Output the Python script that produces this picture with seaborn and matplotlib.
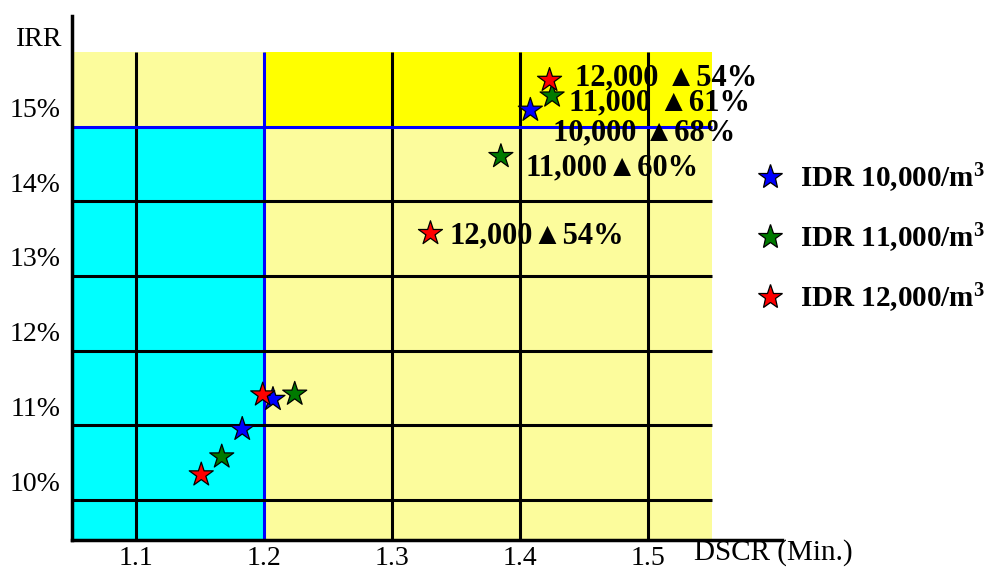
import matplotlib
matplotlib.use("Agg")
import matplotlib.pyplot as plt
import matplotlib.transforms as mtransforms
from matplotlib.patches import Rectangle
import seaborn as sns
import pandas as pd

# ---- data ----
price_labels = ["IDR 10,000/m$^3$", "IDR 11,000/m$^3$", "IDR 12,000/m$^3$"]
dscr_10k = [1.207, 1.183, 1.408]
irr_10k = [11.35, 10.95, 15.22]
dscr_11k = [1.224, 1.167, 1.385, 1.425]
irr_11k = [11.42, 10.58, 14.60, 15.41]
dscr_12k = [1.199, 1.151, 1.330, 1.423]
irr_12k = [11.41, 10.34, 13.57, 15.62]

annot_texts = ["12,000 ▲54%", "11,000 ▲61%", "10,000 ▲68%", "11,000▲60%", "12,000▲54%"]
annot_x = [1.443, 1.438, 1.426, 1.404, 1.345]
annot_y = [15.65, 15.32, 14.92, 14.45, 13.53]

x_ticks = [1.1, 1.2, 1.3, 1.4, 1.5]
x_tick_labels = ["1.1", "1.2", "1.3", "1.4", "1.5"]
y_ticks = [10, 11, 12, 13, 14, 15]
y_tick_labels = ["10%", "11%", "12%", "13%", "14%", "15%"]

dscr_min_req = 1.2
irr_target = 15
region_x = (1.05, 1.55)
region_y_top = 16

colors = ["#0000FF", "#007A00", "#FF0000"]

df = pd.DataFrame({
    "DSCR": dscr_10k + dscr_11k + dscr_12k,
    "IRR": irr_10k + irr_11k + irr_12k,
    "Price": [price_labels[0]] * len(dscr_10k) + [price_labels[1]] * len(dscr_11k)
             + [price_labels[2]] * len(dscr_12k),
})

sns.set_style("white")
plt.rcParams["font.family"] = ["Liberation Serif", "DejaVu Serif"]
plt.rcParams["text.color"] = "black"
plt.rcParams["axes.labelcolor"] = "black"
plt.rcParams["xtick.color"] = "black"
plt.rcParams["ytick.color"] = "black"
plt.rcParams["mathtext.fontset"] = "custom"
plt.rcParams["mathtext.rm"] = "Liberation Serif:bold"
plt.rcParams["mathtext.it"] = "Liberation Serif:bold"
plt.rcParams["mathtext.bf"] = "Liberation Serif:bold"

fig = plt.figure(figsize=(9.99, 5.69), dpi=100)
ax = fig.add_axes([0.072, 0.051, 0.711, 0.921])

xlim = (1.05, 1.6047)
ylim = (9.467, 16.48)
ax.set_xlim(*xlim)
ax.set_ylim(*ylim)

# background regions
ax.add_patch(Rectangle((region_x[0], ylim[0]), region_x[1] - region_x[0], region_y_top - ylim[0],
                       facecolor="#FCFC9C", edgecolor="none", zorder=0))
ax.add_patch(Rectangle((region_x[0], ylim[0]), dscr_min_req - region_x[0], irr_target - ylim[0],
                       facecolor="#00FFFF", edgecolor="none", zorder=0.5))
ax.add_patch(Rectangle((dscr_min_req, irr_target), region_x[1] - dscr_min_req, region_y_top - irr_target,
                       facecolor="#FFFF00", edgecolor="none", zorder=0.5))

# grid lines
for xv in x_ticks:
    c = "#0000FF" if xv == dscr_min_req else "black"
    ax.vlines(xv, ylim[0], region_y_top, colors=c, linewidth=2.2, zorder=1)
for yv in y_ticks:
    c = "#0000FF" if yv == irr_target else "black"
    ax.hlines(yv, region_x[0], region_x[1], colors=c, linewidth=2.2, zorder=1)

sns.scatterplot(data=df, x="DSCR", y="IRR", hue="Price", hue_order=price_labels,
                palette=colors, marker="*", s=330, edgecolor="black", linewidth=0.9,
                ax=ax, zorder=3)

for t, xx, yy in zip(annot_texts, annot_x, annot_y):
    ax.text(xx, yy, t, fontsize=22, fontweight="bold", ha="left", va="center",
            family=["Liberation Serif", "DejaVu Serif"], zorder=4)

ax.set_xticks(x_ticks)
ax.set_xticklabels(x_tick_labels, fontsize=20)
ax.set_yticks(y_ticks)
ax.set_yticklabels(y_tick_labels, fontsize=20)
ax.tick_params(axis="both", length=0)
ax.tick_params(axis="x", pad=4)
ax.tick_params(axis="y", pad=8)
offset = mtransforms.ScaledTranslation(0, 0.19, fig.dpi_scale_trans)
for lab in ax.get_yticklabels():
    lab.set_transform(lab.get_transform() + offset)

ax.set_ylabel("IRR", fontsize=20, rotation=0, ha="center", va="center")
ax.yaxis.set_label_coords(-0.046, 0.955)
ax.set_xlabel("DSCR (Min.)", fontsize=21, ha="center", va="center")
ax.xaxis.set_label_coords(0.987, -0.024)

for side in ["top", "right"]:
    ax.spines[side].set_visible(False)
for side in ["left", "bottom"]:
    ax.spines[side].set_color("black")
    ax.spines[side].set_linewidth(2.5)
    ax.spines[side].set_zorder(5)

sns.move_legend(ax, "upper left", bbox_to_anchor=(0.744, 0.736), bbox_transform=fig.transFigure,
                frameon=False, title=None, fontsize=21, labelspacing=0.9,
                handlelength=1.0, handletextpad=0.55, borderaxespad=0)
leg = ax.get_legend()
for txt in leg.get_texts():
    txt.set_fontweight("bold")
    txt.set_color("black")

fig.savefig("out.png", dpi=100)
